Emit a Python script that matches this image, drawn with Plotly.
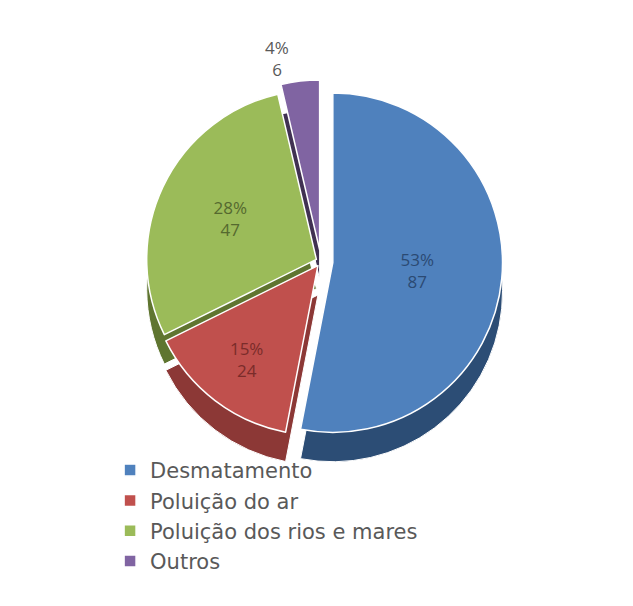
import plotly.graph_objects as go

categories = ["Desmatamento", "Poluição do ar", "Poluição dos rios e mares", "Outros"]
values = [87, 24, 47, 6]
percent_labels = ["53%", "15%", "28%", "4%"]

colors = ["#4F81BD", "#C0504D", "#9BBB59", "#8064A2"]
dark_colors = ["#2C4D75", "#8C3836", "#5F7530", "#403152"]
text_colors = ["#2b4a73", "#7a2c2a", "#55692f", "#595959"]
pulls = [0.07, 0.03, 0.03, 0.07]

texts = [f"{p}<br>{v}" for p, v in zip(percent_labels, values)]

fig = go.Figure()

# depth layer (pseudo 3D)
fig.add_trace(go.Pie(
    labels=categories, values=values, sort=False, direction="clockwise", rotation=0,
    pull=pulls, marker=dict(colors=dark_colors, line=dict(color="white", width=1)),
    textinfo="none", hoverinfo="skip", showlegend=False,
    domain=dict(x=[0, 1], y=[0.265, 0.945]),
))

fig.add_trace(go.Pie(
    labels=categories, values=values, sort=False, direction="clockwise", rotation=0,
    pull=pulls, marker=dict(colors=colors, line=dict(color="white", width=1.5)),
    text=texts, textinfo="text", texttemplate="%{text}",
    textposition=["inside", "inside", "inside", "outside"],
    insidetextorientation="horizontal",
    textfont=dict(family="Open Sans, sans-serif", size=17, color=text_colors),
    outsidetextfont=dict(family="Open Sans, sans-serif", size=17, color="#595959"),
    domain=dict(x=[0, 1], y=[0.32, 1.0]),
))

fig.update_layout(
    width=633, height=606,
    margin=dict(l=0, r=0, t=0, b=0),
    paper_bgcolor="white", plot_bgcolor="white",
    legend=dict(
        orientation="v", x=0.055, y=0.06, xanchor="left", yanchor="bottom",
        font=dict(family="DejaVu Sans, sans-serif", size=21, color="#595959"),
        traceorder="normal", itemwidth=30, bgcolor="rgba(0,0,0,0)",
    ),
)

fig.write_html("out.html")
